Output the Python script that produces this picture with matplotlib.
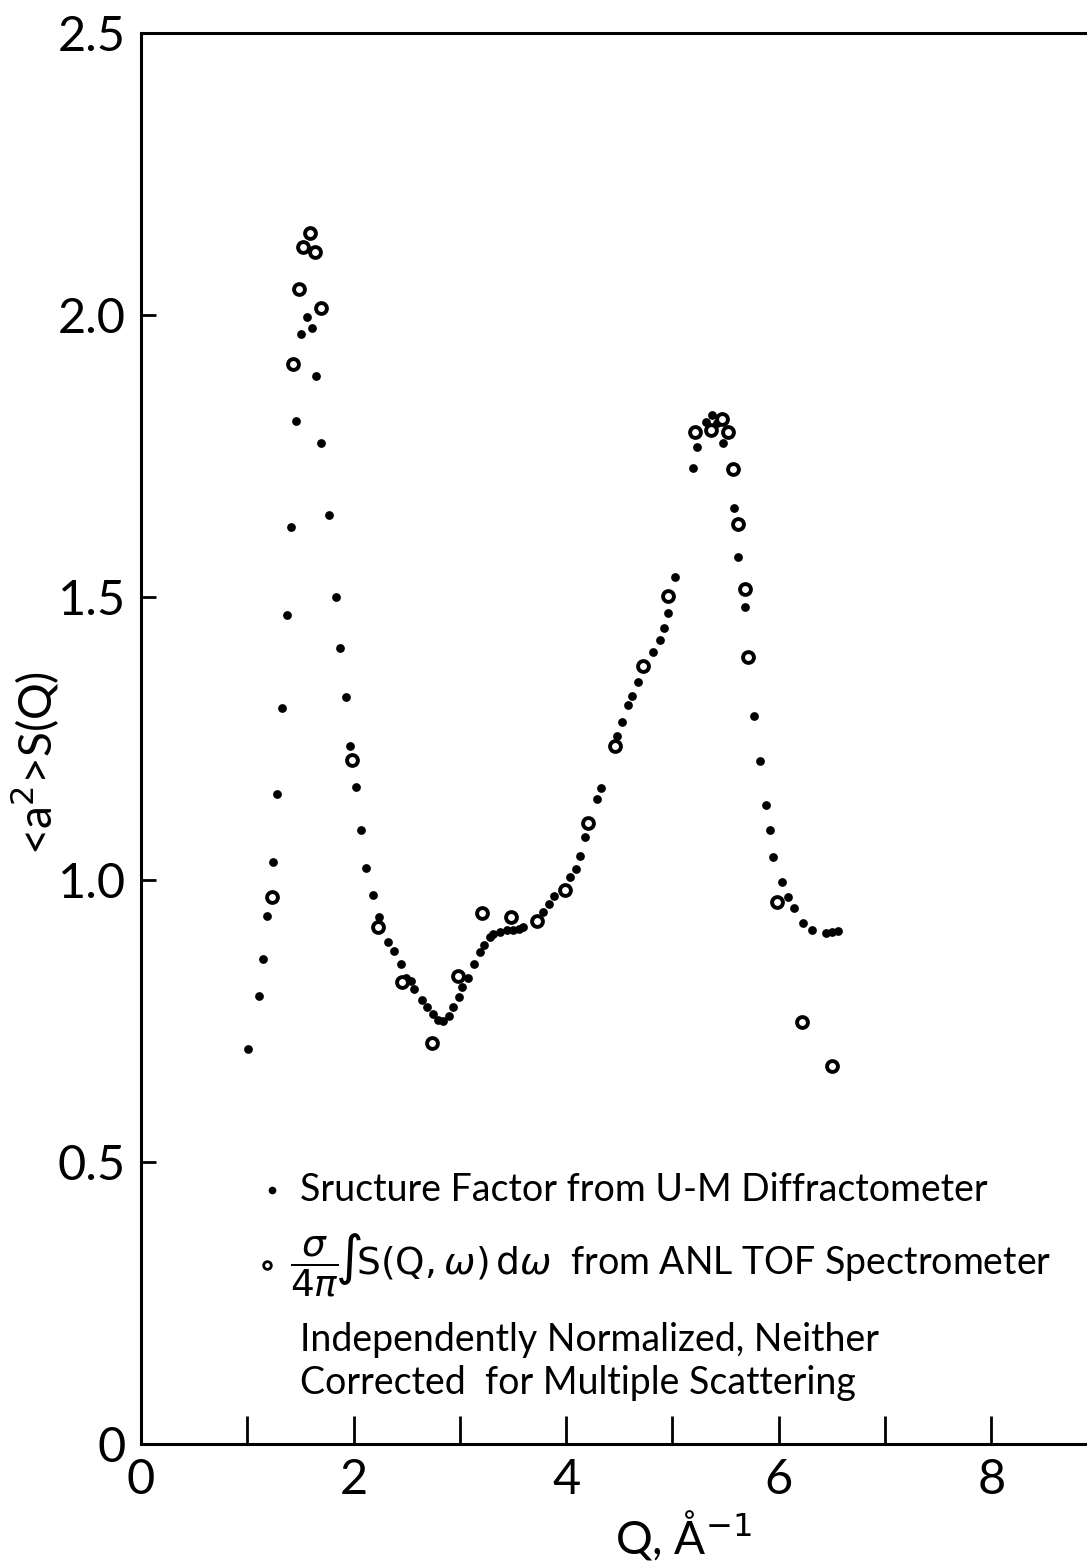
import matplotlib
matplotlib.use("Agg")
import matplotlib.pyplot as plt

plt.rcParams['font.family'] = ['Lato', 'DejaVu Sans']
plt.rcParams['mathtext.fontset'] = 'dejavusans'

# U-M diffractometer structure factor (small dots)
q_diff = [1.01, 1.11, 1.15, 1.19, 1.24, 1.28, 1.33, 1.37, 1.41, 1.46,
          1.505, 1.56, 1.61, 1.65, 1.69, 1.77, 1.83, 1.87, 1.93, 1.97,
          2.02, 2.07, 2.12, 2.18, 2.24, 2.32, 2.38, 2.45, 2.49, 2.54,
          2.57, 2.64, 2.69, 2.75, 2.79, 2.84, 2.90, 2.94, 2.99, 3.02,
          3.08, 3.13, 3.19, 3.23, 3.28, 3.31, 3.38, 3.44, 3.50, 3.56,
          3.59, 3.78, 3.84, 3.89, 4.04, 4.09, 4.13, 4.18, 4.29, 4.33,
          4.48, 4.53, 4.58, 4.62, 4.68, 4.82, 4.88, 4.92, 4.96, 5.02,
          5.19, 5.23, 5.32, 5.37, 5.42, 5.475, 5.58, 5.62, 5.68, 5.77,
          5.82, 5.88, 5.92, 5.95, 6.03, 6.09, 6.14, 6.23, 6.31, 6.44,
          6.50, 6.56]
s_diff = [0.700, 0.794, 0.859, 0.936, 1.031, 1.152, 1.304, 1.469, 1.625, 1.813,
          1.967, 1.997, 1.977, 1.892, 1.774, 1.646, 1.501, 1.410, 1.324, 1.237,
          1.164, 1.088, 1.020, 0.973, 0.934, 0.889, 0.874, 0.850, 0.826, 0.821,
          0.806, 0.787, 0.774, 0.762, 0.751, 0.749, 0.758, 0.774, 0.792, 0.810,
          0.826, 0.850, 0.872, 0.885, 0.899, 0.904, 0.907, 0.910, 0.911, 0.913,
          0.916, 0.943, 0.957, 0.971, 1.005, 1.019, 1.041, 1.075, 1.143, 1.162,
          1.254, 1.279, 1.309, 1.325, 1.350, 1.403, 1.425, 1.446, 1.472, 1.536,
          1.729, 1.766, 1.811, 1.823, 1.809, 1.774, 1.658, 1.572, 1.483, 1.290,
          1.210, 1.132, 1.088, 1.040, 0.996, 0.969, 0.950, 0.923, 0.911, 0.905,
          0.907, 0.909]

# ANL TOF spectrometer, integrated S(Q, w) (open circles)
q_tof = [1.23, 1.43, 1.49, 1.52, 1.59, 1.64, 1.69, 1.985, 2.23, 2.46,
         2.74, 2.98, 3.21, 3.48, 3.73, 3.99, 4.21, 4.46, 4.72, 4.96,
         5.21, 5.36, 5.47, 5.52, 5.57, 5.62, 5.68, 5.71, 5.98, 6.22,
         6.50]
s_tof = [0.969, 1.914, 2.046, 2.121, 2.146, 2.112, 2.013, 1.212, 0.916, 0.819,
         0.711, 0.829, 0.941, 0.934, 0.927, 0.982, 1.100, 1.237, 1.378, 1.502,
         1.793, 1.797, 1.816, 1.793, 1.727, 1.630, 1.515, 1.394, 0.960, 0.748,
         0.670]

x_ticks = [0, 1, 2, 3, 4, 5, 6, 7, 8]
x_ticklabels = ['0', '', '2', '', '4', '', '6', '', '8']
y_ticks = [0, 0.5, 1.0, 1.5, 2.0, 2.5]
y_ticklabels = ['0', '0.5', '1.0', '1.5', '2.0', '2.5']

fig = plt.figure(figsize=(10.87, 15.66), dpi=100)
ax = fig.add_axes([0.1297, 0.0779, 1 - 0.1297, 0.9010])

ax.plot(q_diff, s_diff, 'o', color='black', ms=6.3, mew=0)
ax.plot(q_tof, s_tof, 'o', mfc='white', mec='black', ms=7.8, mew=2.8)

ax.set_xlim(0, 8.9)
ax.set_ylim(0, 2.5)
ax.spines['right'].set_visible(False)
for s in ['left', 'top', 'bottom']:
    ax.spines[s].set_linewidth(2.2)

ax.set_xticks(x_ticks)
ax.set_xticklabels(x_ticklabels)
ax.set_yticks(y_ticks)
ax.set_yticklabels(y_ticklabels)
ax.tick_params(axis='x', direction='in', length=20, width=2, pad=10, labelsize=35)
ax.tick_params(axis='y', direction='in', length=11, width=2, pad=11, labelsize=35)

# key and note inside the plot
ax.plot([1.23], [0.45], 'o', color='black', ms=5.5, mew=0)
ax.text(1.50, 0.45, 'Sructure Factor from U-M Diffractometer',
        fontsize=27, va='center', ha='left')
ax.plot([1.19], [0.317], 'o', mfc='white', mec='black', ms=5.5, mew=2)
ax.text(1.40, 0.317,
        r'$\dfrac{\sigma}{4\pi}\!\int\!\mathrm{S}(\mathrm{Q},\omega)\,\mathrm{d}\omega$  from ANL TOF Spectrometer',
        fontsize=27, va='center', ha='left')
ax.text(1.50, 0.184, 'Independently Normalized, Neither',
        fontsize=27, va='center', ha='left')
ax.text(1.50, 0.108, 'Corrected  for Multiple Scattering',
        fontsize=27, va='center', ha='left')

fig.text(615 / 1087, 1 - 1535 / 1566, r'Q, Å$^{-1}$', fontsize=33,
         ha='left', va='center')
fig.text(35 / 1087, 1 - 763 / 1566, r'<a$^2$>S(Q)', fontsize=33,
         rotation=90, ha='center', va='center')

fig.savefig('out.png', dpi=100)
